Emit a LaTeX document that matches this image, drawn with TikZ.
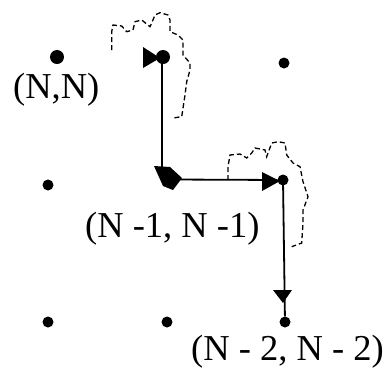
\documentclass[tikz,border=0pt]{standalone}
\usepackage{fontspec}
\setmainfont{Liberation Serif}
\begin{document}
\begin{tikzpicture}[x=1pt,y=-1pt,
  dot/.style={circle,fill=black,inner sep=0pt,minimum size=11pt},
  bigdot/.style={circle,fill=black,inner sep=0pt,minimum size=14pt},
  lbl/.style={inner sep=0pt,anchor=base west,font=\fontsize{36.5}{40}\selectfont},
  edge/.style={line width=1.8pt},
  squig/.style={line width=1.3pt,dash pattern=on 5pt off 3pt}]
\useasboundingbox (0,0) rectangle (385,368);
% grid points
\node[bigdot] (nn) at (57,57) {};
\node[bigdot] (a) at (163,57) {};
\node[dot] (tr) at (284,63) {};
\node[dot] (ml) at (48,185) {};
\node[dot] (b) at (283,180) {};
\node[dot] (bl) at (48,322) {};
\node[dot] (bm) at (167,322) {};
\node[dot] (c) at (285,322) {};
\coordinate (av) at (162,57);
\coordinate (corner) at (162,170);
\coordinate (hstart) at (172,179.5);
\coordinate (bv) at (283,180);
% labels
\node[lbl] (lnn) at (13,98) {(N,N)};
\node[lbl] (l1) at (85,237) {(N -1, N -1)};
\node[lbl] (l2) at (191,360) {(N - 2, N - 2)};
% path edges
\draw[edge] (av) -- (corner);
\draw[edge] (hstart) -- (b);
\draw[edge] (bv) -- (c);
% arrow tips
\fill (143,47) -- (143,68) -- (160,58) -- cycle;
\fill (262,172) -- (262,191) -- (280,181) -- cycle;
\fill (273,290) -- (292,290) -- (283,303) -- cycle;
\fill (154,166) -- (170,167) -- (182,178) -- (173,190) -- (163,186) -- cycle;
% squiggles
\draw[squig] (111.7,50) -- (111.7,36.7) -- (111.7,31.7) -- (113,25) -- (121.7,26) -- (126.7,31.7) -- (133,30) -- (135,21.7) -- (141.7,20) -- (150,26.7) -- (151.7,23) -- (155,15) -- (160,12.7) -- (168,15) -- (170,20) -- (170,31.7) -- (178,35) -- (183,40) -- (183,55) -- (190,63) -- (190,70) -- (186.7,81.7) -- (185,95) -- (181.7,116.7) -- (173,118);
\draw[squig] (228,180) -- (228,166.7) -- (230,155) -- (240,154) -- (246.7,158) -- (251.7,153) -- (255,148) -- (265,150) -- (266.7,156.7) -- (271.7,143) -- (278,141.7) -- (285,143) -- (286.7,155) -- (293,163) -- (300,166.7) -- (303,181.7) -- (308,196.7) -- (303,210) -- (303,223) -- (301.7,243) -- (291.7,246.7);
\end{tikzpicture}
\end{document}
